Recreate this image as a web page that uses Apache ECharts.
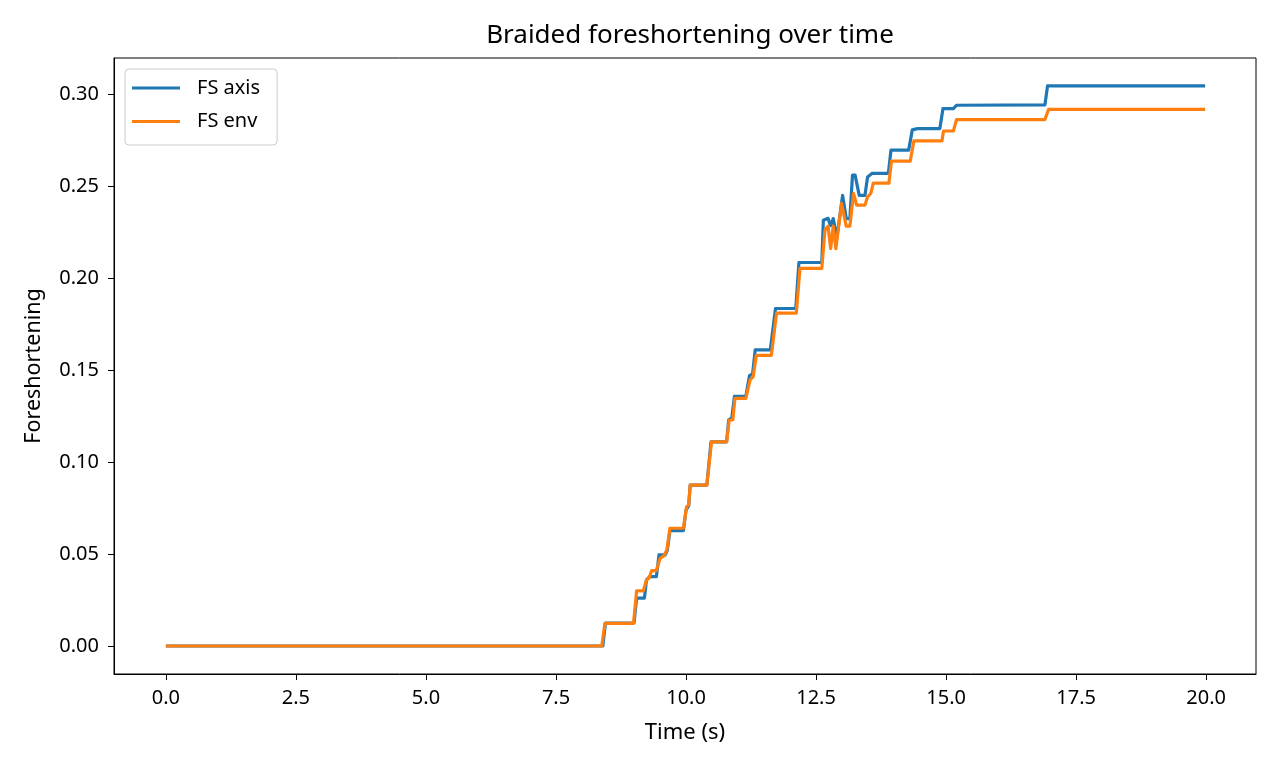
<!DOCTYPE html>
<html>
<head>
<meta charset="utf-8">
<script src="https://cdn.jsdelivr.net/npm/echarts@6/dist/echarts.min.js"></script>
<style>
html,body{margin:0;padding:0;background:#fff;}
#chart{width:1280px;height:768px;}
</style>
</head>
<body>
<div id="chart"></div>
<script>
// ---- data ----
const seriesNames = ['FS axis', 'FS env'];

const timeAxis = [0, 8.40, 8.45, 9.00, 9.05, 9.20, 9.24, 9.30, 9.43, 9.48, 9.60, 9.64, 9.69, 9.95, 10.00, 10.05, 10.08, 10.40, 10.48, 10.78, 10.82, 10.88, 10.93, 11.15, 11.22, 11.28, 11.33, 11.62, 11.72, 12.11, 12.17, 12.61, 12.64, 12.73, 12.78, 12.83, 12.90, 13.01, 13.08, 13.15, 13.20, 13.25, 13.33, 13.44, 13.49, 13.58, 13.89, 13.94, 14.28, 14.35, 14.45, 14.88, 14.94, 15.14, 15.20, 16.90, 16.95, 19.98];
const fsAxis   = [0, 0, 0.0125, 0.0125, 0.026, 0.026, 0.036, 0.0377, 0.0377, 0.0495, 0.0495, 0.052, 0.0627, 0.0627, 0.074, 0.076, 0.0875, 0.0875, 0.111, 0.111, 0.123, 0.124, 0.1357, 0.1357, 0.147, 0.148, 0.161, 0.161, 0.1835, 0.1835, 0.2085, 0.2085, 0.2315, 0.2325, 0.2285, 0.2324, 0.222, 0.245, 0.2324, 0.2324, 0.256, 0.256, 0.245, 0.245, 0.255, 0.257, 0.257, 0.2696, 0.2696, 0.2806, 0.2813, 0.2813, 0.2922, 0.2922, 0.294, 0.2942, 0.3045, 0.3045];

const timeEnv = [0, 8.38, 8.44, 8.99, 9.05, 9.18, 9.24, 9.29, 9.34, 9.43, 9.50, 9.57, 9.63, 9.69, 9.95, 10.01, 10.05, 10.08, 10.40, 10.49, 10.78, 10.83, 10.90, 10.94, 11.15, 11.23, 11.29, 11.35, 11.64, 11.74, 12.12, 12.19, 12.61, 12.67, 12.73, 12.78, 12.83, 12.88, 12.99, 13.08, 13.15, 13.22, 13.28, 13.44, 13.49, 13.55, 13.60, 13.90, 13.95, 14.31, 14.38, 14.92, 14.95, 15.14, 15.20, 16.90, 16.97, 19.98];
const fsEnv   = [0, 0, 0.0123, 0.0123, 0.030, 0.030, 0.036, 0.037, 0.041, 0.041, 0.0476, 0.049, 0.052, 0.064, 0.064, 0.0757, 0.0765, 0.0875, 0.0875, 0.111, 0.111, 0.1228, 0.123, 0.1346, 0.1346, 0.1446, 0.1464, 0.158, 0.158, 0.181, 0.181, 0.2053, 0.2053, 0.226, 0.2283, 0.2161, 0.2283, 0.216, 0.2406, 0.2283, 0.2283, 0.246, 0.2397, 0.2397, 0.2442, 0.246, 0.2516, 0.2516, 0.2636, 0.2636, 0.2746, 0.2746, 0.280, 0.280, 0.2862, 0.2862, 0.2917, 0.2917];

const xTicks = [0, 2.5, 5, 7.5, 10, 12.5, 15, 17.5, 20];
const yTicks = [0, 0.05, 0.10, 0.15, 0.20, 0.25, 0.30];

// ---- chart ----
const FONT = 'Noto Sans';
const pairs = (xs, ys) => xs.map((x, i) => [x, ys[i]]);

const chart = echarts.init(document.getElementById('chart'), null, {renderer: 'canvas'});
chart.setOption({
  animation: false,
  backgroundColor: '#ffffff',
  textStyle: {fontFamily: FONT},
  title: {
    text: 'Braided foreshortening over time',
    left: 685, top: 18, textAlign: 'center',
    textStyle: {fontFamily: FONT, fontSize: 26, fontWeight: 'normal', color: '#000'}
  },
  legend: {
    orient: 'vertical',
    left: 125, top: 69,
    data: seriesNames,
    icon: 'rect',
    itemWidth: 48, itemHeight: 3,
    itemGap: 13.5,
    padding: [9, 17, 13.5, 7],
    borderColor: '#cccccc', borderWidth: 1, borderRadius: 4,
    backgroundColor: '#ffffff',
    formatter: name => '{t|' + name + '}',
    textStyle: {
      fontFamily: FONT, fontSize: 20, color: '#000',
      rich: {t: {fontFamily: FONT, fontSize: 20, color: '#000', lineHeight: 24, padding: [0, 0, 0, 12]}}
    }
  },
  grid: {
    left: 114, right: 24, top: 58, bottom: 94,
    show: true, borderColor: '#000', borderWidth: 1, backgroundColor: 'transparent'
  },
  xAxis: {
    type: 'value',
    min: -0.998, max: 20.958,
    name: 'Time (s)', nameLocation: 'middle', nameGap: 48,
    nameTextStyle: {fontFamily: FONT, fontSize: 22, color: '#000'},
    axisLine: {show: true, onZero: false, lineStyle: {color: '#000', width: 1}},
    axisTick: {show: true, length: 6, inside: false, customValues: xTicks, lineStyle: {color: '#000', width: 1}},
    axisLabel: {show: true, margin: 14, customValues: xTicks, fontFamily: FONT, fontSize: 20, color: '#000',
      formatter: v => v.toFixed(1)},
    splitLine: {show: false}
  },
  yAxis: {
    type: 'value',
    min: -0.01523, max: 0.31968,
    name: 'Foreshortening', nameLocation: 'middle', nameGap: 69,
    nameTextStyle: {fontFamily: FONT, fontSize: 21.5, color: '#000'},
    axisLine: {show: true, onZero: false, lineStyle: {color: '#000', width: 1}},
    axisTick: {show: true, length: 6, inside: false, customValues: yTicks, lineStyle: {color: '#000', width: 1}},
    axisLabel: {show: true, margin: 15, customValues: yTicks, fontFamily: FONT, fontSize: 20, color: '#000',
      formatter: v => v.toFixed(2)},
    splitLine: {show: false}
  },
  series: [
    {
      name: seriesNames[0], type: 'line', data: pairs(timeAxis, fsAxis),
      showSymbol: false, symbol: 'none', color: '#1f77b4',
      lineStyle: {color: '#1f77b4', width: 3.2, join: 'round'}, z: 2
    },
    {
      name: seriesNames[1], type: 'line', data: pairs(timeEnv, fsEnv),
      showSymbol: false, symbol: 'none', color: '#ff7f0e',
      lineStyle: {color: '#ff7f0e', width: 3.2, join: 'round'}, z: 3
    }
  ]
});
</script>
</body>
</html>
